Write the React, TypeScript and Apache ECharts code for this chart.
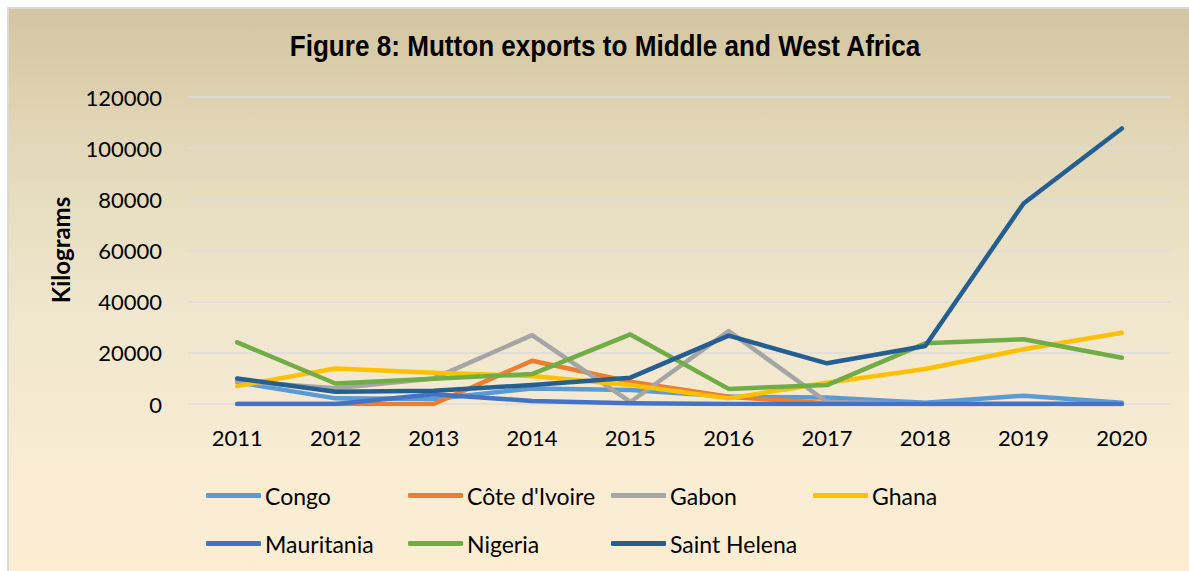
import React, { useEffect, useRef } from "react";
import * as echarts from "echarts";

const years = ["2011", "2012", "2013", "2014", "2015", "2016", "2017", "2018", "2019", "2020"];
const yTicks = [0, 20000, 40000, 60000, 80000, 100000, 120000];

const congo = [8500, 2200, 1950, 6100, 5500, 2900, 2500, 500, 3250, 500];
const coteDIvoire = [0, 0, 0, 16900, 8700, 2800, 300, 0, 0, 0];
const gabon = [8800, 6200, 10000, 26900, 800, 28500, 800, 0, 0, 0];
const ghana = [7000, 13900, 12200, 10900, 7400, 2200, 8300, 13700, 21400, 27850];
const mauritania = [0, 0, 3800, 1200, 300, 0, 0, 0, 0, 0];
const nigeria = [24100, 8000, 9900, 11700, 27200, 5900, 7400, 23700, 25300, 18100];
const saintHelena = [10000, 4800, 5200, 7400, 10300, 26700, 15900, 22700, 78400, 107700];

const seriesNames = ["Congo", "Côte d'Ivoire", "Gabon", "Ghana", "Mauritania", "Nigeria", "Saint Helena"];
const seriesData = [congo, coteDIvoire, gabon, ghana, mauritania, nigeria, saintHelena];
const seriesColors = ["#5b9bd5", "#ed7d31", "#a5a5a5", "#ffc000", "#4472c4", "#70ad47", "#255e91"];

const title = "Figure 8: Mutton exports to Middle and West Africa";
const yName = "Kilograms";

const labelFont = "Lato, 'Open Sans', sans-serif";

export default function App() {
  const ref = useRef<HTMLDivElement>(null);
  useEffect(() => {
    document.body.style.margin = "0";
    const chart = echarts.init(ref.current!, null, { renderer: "svg" });
    const legendCols = [206, 408, 611, 813];
    const legendRows = [483, 531];
    const legends = seriesNames.map((name, i) => ({
      data: [name],
      left: legendCols[i % 4],
      top: legendRows[Math.floor(i / 4)],
      icon: "roundRect",
      itemWidth: 55,
      itemHeight: 5,
      padding: 0,
      selectedMode: false,
      textStyle: { fontFamily: labelFont, fontSize: 23, color: "#000", padding: [0, 0, 0, -1], lineHeight: 25 },
    }));
    chart.setOption({
      animation: false,
      backgroundColor: "transparent",
      grid: { left: 188, right: 18, top: 97, bottom: 167, containLabel: false },
      graphic: [
        {
          type: "text",
          x: 605,
          y: 46,
          scaleX: 0.9,
          style: {
            text: title,
            fill: "#000",
            font: "bold 29px 'Liberation Sans Narrow', 'Arial Narrow', 'Liberation Sans', sans-serif",
            textAlign: "center",
            textVerticalAlign: "middle",
          },
        },
        {
          type: "text",
          x: 60,
          y: 250,
          rotation: Math.PI / 2,
          style: {
            text: yName,
            fill: "#000",
            font: "bold 24px " + labelFont,
            textAlign: "center",
            textVerticalAlign: "middle",
          },
        },
      ],
      legend: legends,
      xAxis: {
        type: "category",
        data: years,
        boundaryGap: true,
        axisLine: { show: false },
        axisTick: { show: false },
        axisLabel: { color: "#000", fontFamily: labelFont, fontSize: 22, margin: 22 },
      },
      yAxis: {
        type: "value",
        min: yTicks[0],
        max: yTicks[yTicks.length - 1],
        interval: yTicks[1] - yTicks[0],
        axisLine: { show: false },
        axisTick: { show: false },
        splitLine: { lineStyle: { color: "#dcdcdc", width: 1.5 } },
        axisLabel: {
          color: "#000",
          fontFamily: labelFont,
          fontSize: 22,
          margin: 26,
          formatter: (v: number) => String(v),
        },
      },
      series: seriesNames.map((name, i) => ({
        name,
        type: "line",
        data: seriesData[i],
        showSymbol: false,
        symbol: "none",
        color: seriesColors[i],
        lineStyle: { color: seriesColors[i], width: 4.5, cap: "round", join: "round" },
      })),
    });
    return () => chart.dispose();
  }, []);
  return (
    <div style={{ position: "relative", width: 1189, height: 571, background: "#fff", overflow: "hidden" }}>
      <div
        style={{
          position: "absolute",
          left: 7,
          top: 7,
          width: 1200,
          height: 600,
          boxSizing: "border-box",
          borderLeft: "2px solid #d9d9d9",
          borderTop: "2px solid #d9d9d9",
          background: "linear-gradient(to bottom, #d3c5a0 0%, #e2d7b7 22%, #efe6cd 50%, #f8ecd3 75%, #fdeed3 100%)",
        }}
      />
      <div ref={ref} style={{ position: "absolute", left: 0, top: 0, width: 1189, height: 571 }} />
    </div>
  );
}
